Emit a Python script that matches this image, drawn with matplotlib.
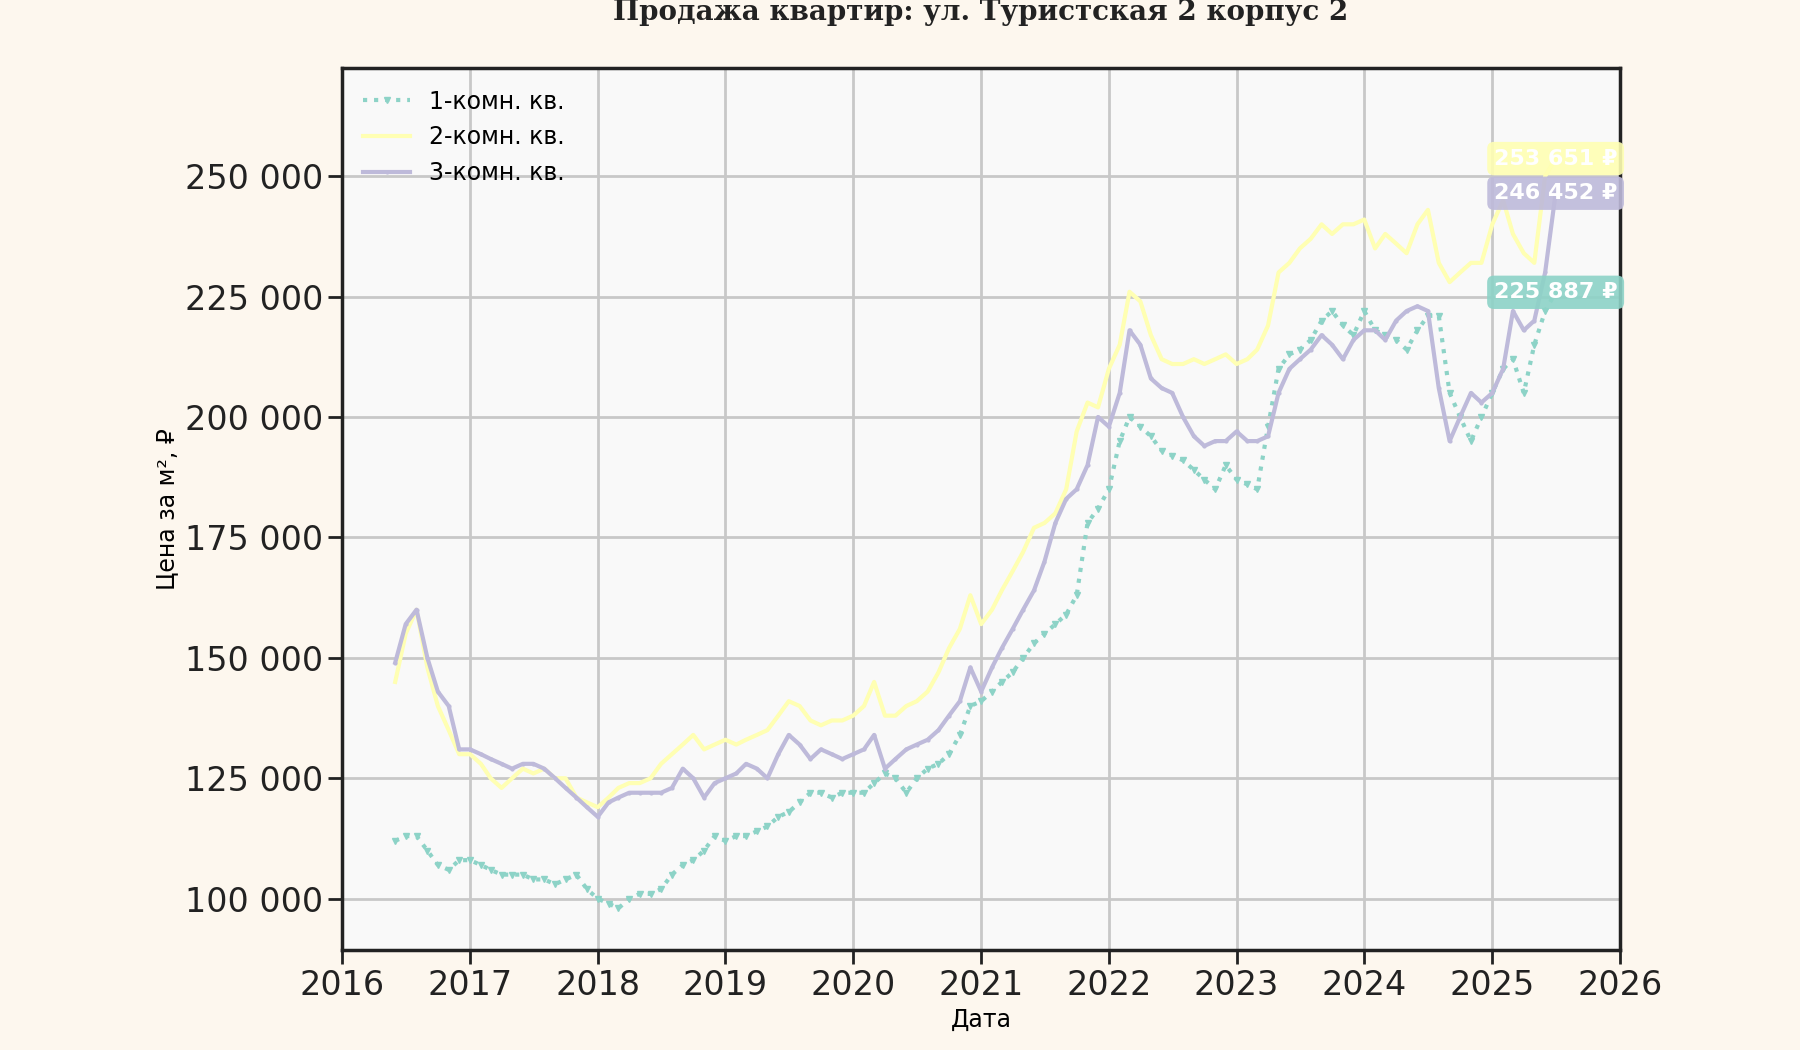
import numpy as np
import pandas as pd
from matplotlib import pyplot as plt
from matplotlib.ticker import FuncFormatter

dates = pd.date_range("2016-06-01", periods=110, freq="MS")

room1 = [112, 113, 113, 110, 107, 106, 108,
         108, 107, 106, 105, 105, 105, 104, 104, 103, 104, 105, 102,
         100, 99, 98, 100, 101, 101, 102, 105, 107, 108, 110, 113,
         112, 113, 113, 114, 115, 117, 118, 120, 122, 122, 121, 122,
         122, 122, 124, 126, 125, 122, 125, 127, 128, 130, 134, 140,
         141, 143, 145, 147, 150, 153, 155, 157, 159, 163, 178, 181,
         185, 195, 200, 198, 196, 193, 192, 191, 189, 187, 185, 190,
         187, 186, 185, 198, 210, 213, 214, 216, 220, 222, 219, 217,
         222, 218, 217, 216, 214, 218, 221, 221, 205, 200, 195, 200,
         205, 210, 212, 205, 215, 222, 225.887]
room2 = [145, 155, 160, 148, 140, 135, 130,
         130, 128, 125, 123, 125, 127, 126, 127, 125, 125, 121, 120,
         119, 121, 123, 124, 124, 125, 128, 130, 132, 134, 131, 132,
         133, 132, 133, 134, 135, 138, 141, 140, 137, 136, 137, 137,
         138, 140, 145, 138, 138, 140, 141, 143, 147, 152, 156, 163,
         157, 160, 164, 168, 172, 177, 178, 180, 185, 197, 203, 202,
         210, 215, 226, 224, 217, 212, 211, 211, 212, 211, 212, 213,
         211, 212, 214, 219, 230, 232, 235, 237, 240, 238, 240, 240,
         241, 235, 238, 236, 234, 240, 243, 232, 228, 230, 232, 232,
         240, 245, 238, 234, 232, 250, 253.651]
room3 = [149, 157, 160, 150, 143, 140, 131,
         131, 130, 129, 128, 127, 128, 128, 127, 125, 123, 121, 119,
         117, 120, 121, 122, 122, 122, 122, 123, 127, 125, 121, 124,
         125, 126, 128, 127, 125, 130, 134, 132, 129, 131, 130, 129,
         130, 131, 134, 127, 129, 131, 132, 133, 135, 138, 141, 148,
         143, 148, 152, 156, 160, 164, 170, 178, 183, 185, 190, 200,
         198, 205, 218, 215, 208, 206, 205, 200, 196, 194, 195, 195,
         197, 195, 195, 196, 205, 210, 212, 214, 217, 215, 212, 216,
         218, 218, 216, 220, 222, 223, 222, 206, 195, 200, 205, 203,
         205, 210, 222, 218, 220, 230, 246.452]

series = [
    ("1-комн. кв.", np.array(room1) * 1000, "#8dd3c7", ":", "v"),
    ("2-комн. кв.", np.array(room2) * 1000, "#ffffb3", "-", None),
    ("3-комн. кв.", np.array(room3) * 1000, "#bebada", "-", "."),
]

fig = plt.figure(figsize=(18, 10.5), dpi=100, facecolor="#fdf7ee")
ax = fig.add_axes([0.19, 0.095, 0.71, 0.84])
ax.set_facecolor("#f9f9f9")

for name, vals, col, ls, mk in series:
    ax.plot(dates, vals, color=col, linestyle=ls, marker=mk, markersize=4,
            linewidth=3, label=name)
    ax.text(dates[-1], vals[-1], f"{vals[-1]:,.0f} ₽".replace(",", " "),
            ha="center", va="center", color="white", fontsize=16, fontweight="bold",
            bbox=dict(boxstyle="round,pad=0.3", fc=col, ec="none", alpha=0.9))

ax.set_xlim(pd.Timestamp("2016-01-01"), pd.Timestamp("2026-01-01"))
ax.set_ylim(89300, 272400)
ax.set_xticks([pd.Timestamp(f"{y}-01-01") for y in range(2016, 2027)])
ax.set_xticklabels([str(y) for y in range(2016, 2027)])
ax.set_yticks(np.arange(100000, 260000, 25000))
ax.yaxis.set_major_formatter(FuncFormatter(lambda v, p: f"{v:,.0f}".replace(",", " ")))
ax.tick_params(labelsize=24, length=10, width=2, colors="#222222")
ax.grid(color="#c8c8c8", linewidth=2)
for s in ax.spines.values():
    s.set_linewidth(2.5)
    s.set_color("#222222")

ax.set_xlabel("Дата", fontsize=17)
ax.set_ylabel("Цена за м², ₽", fontsize=17)
ax.set_title("Продажа квартир: ул. Туристская 2 корпус 2", fontsize=20,
             fontweight="bold", family="DejaVu Serif", pad=35, color="#222222")
ax.legend(loc="upper left", fontsize=17, frameon=False)

plt.savefig("out.png", facecolor=fig.get_facecolor())
